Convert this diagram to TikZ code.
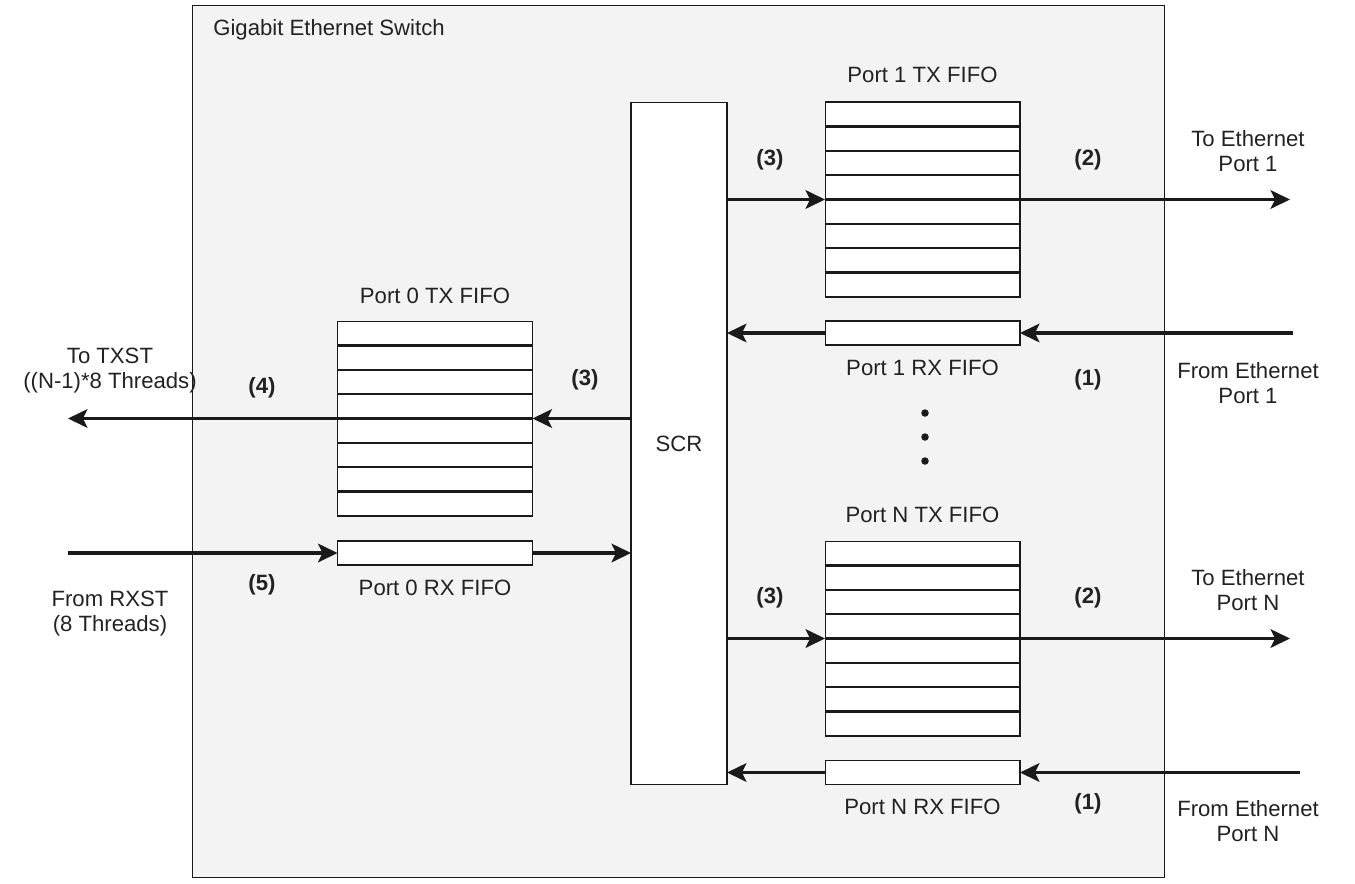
\documentclass[tikz,border=0pt]{standalone}
\usepackage{fontspec}
\setmainfont{Liberation Sans}
\usepackage{xcolor}
\definecolor{ink}{HTML}{1A1A1A}
\definecolor{panel}{HTML}{F3F3F3}
\definecolor{txt}{HTML}{222222}
\usetikzlibrary{positioning,arrows.meta,calc}

\begin{document}
\begin{tikzpicture}[
  x=0.02cm,y=-0.02cm,
  font=\fontsize{12.6}{14.2}\selectfont,
  text=txt,
  switchbox/.style={draw=ink,line width=0.6pt,fill=panel,
    minimum width=19.46cm,minimum height=17.46cm,inner sep=0pt,outer sep=0pt},
  scrbox/.style={draw=ink,line width=0.6pt,fill=white,
    minimum width=1.92cm,minimum height=13.66cm,inner sep=0pt,outer sep=0pt},
  txfifo/.style={draw=ink,line width=0.6pt,fill=white,
    minimum width=3.9cm,minimum height=3.9cm,inner sep=0pt,outer sep=0pt},
  rxfifo/.style={draw=ink,line width=0.6pt,fill=white,
    minimum width=3.9cm,minimum height=0.48cm,inner sep=0pt,outer sep=0pt},
  fifocap/.style={inner sep=0pt,text height=9pt,text depth=2.5pt},
  stepno/.style={inner sep=0pt,font=\fontsize{12.6}{14.2}\selectfont\bfseries},
  ext/.style={inner sep=0pt,align=center},
  slot/.style={draw=ink,line width=1.4pt},
  flow/.style={draw=ink,line width=2pt,-{Stealth[length=11pt,width=10.5pt,inset=2.5pt]}},
  dot/.style={circle,fill=ink,inner sep=0pt,minimum size=0.15cm}
]
\useasboundingbox (0,0) rectangle (1355,883);

% Switch and crossbar
\node[switchbox] (switch) at (678.5,441.5) {};
\node[fifocap,anchor=west] (title) at (213,30) {Gigabit Ethernet Switch};
\node[scrbox] (scr) at (679,443.5) {SCR};

% Port FIFOs
\node[txfifo] (tx1) at (922.5,199.5) {};
\node[rxfifo] (rx1) at (922.5,333) {};
\node[txfifo] (tx0) at (435,418.5) {};
\node[rxfifo] (rx0) at (435,553) {};
\node[txfifo] (txn) at (922.5,638.5) {};
\node[rxfifo] (rxn) at (922.5,772.5) {};

\foreach \f in {tx0,tx1,txn}
  \foreach \k in {1,...,7}
    \draw[slot] ($(\f.north west)!\k/8!(\f.south west)$) -- ($(\f.north east)!\k/8!(\f.south east)$);

\node[fifocap,above=0.3cm of tx1] (tx1cap) {Port 1 TX FIFO};
\node[fifocap,below=0.28cm of rx1] (rx1cap) {Port 1 RX FIFO};
\node[fifocap,above=0.26cm of tx0] (tx0cap) {Port 0 TX FIFO};
\node[fifocap,below=0.28cm of rx0] (rx0cap) {Port 0 RX FIFO};
\node[fifocap,above=0.28cm of txn] (txncap) {Port N TX FIFO};
\node[fifocap,below=0.28cm of rxn] (rxncap) {Port N RX FIFO};

\foreach \i/\y in {1/413,2/437,3/461}
  \node[dot] (dot\i) at (925,\y) {};

% Outside end points
\coordinate (tx1out) at (1290,199.5);
\coordinate (rx1in) at (1293,333);
\coordinate (tx0out) at (68,418.5);
\coordinate (rx0in) at (68,553);
\coordinate (txnout) at (1290,638.5);
\coordinate (rxnin) at (1300,772.5);

% Data paths
\draw[flow] (scr.east |- tx1.west) -- (tx1.west);
\draw[flow] (tx1.east) -- (tx1out);
\draw[flow] (rx1in) -- (rx1.east);
\draw[flow] (rx1.west) -- (rx1.west -| scr.east);
\draw[flow] (tx0.east -| scr.west) -- (tx0.east);
\draw[flow] (tx0.west) -- (tx0out);
\draw[flow] (rx0in) -- (rx0.west);
\draw[flow] (rx0.east) -- (rx0.east -| scr.west);
\draw[flow] (scr.east |- txn.west) -- (txn.west);
\draw[flow] (txn.east) -- (txnout);
\draw[flow] (rxnin) -- (rxn.east);
\draw[flow] (rxn.west) -- (rxn.west -| scr.east);

% Step numbers
\node[stepno] (s3a) at (770,160) {(3)};
\node[stepno] (s2a) at (1088,160) {(2)};
\node[stepno] (s1a) at (1088,380) {(1)};
\node[stepno] (s3b) at (585,380) {(3)};
\node[stepno] (s4) at (262,388) {(4)};
\node[stepno] (s5) at (262,585) {(5)};
\node[stepno] (s3c) at (770,598) {(3)};
\node[stepno] (s2b) at (1088,598) {(2)};
\node[stepno] (s1b) at (1088,804) {(1)};

% Outside labels
\node[ext] (eth1to) at (1248,151) {To Ethernet\\Port 1};
\node[ext] (eth1from) at (1248,383) {From Ethernet\\Port 1};
\node[ext] (txst) at (110,371) {To TXST\\((N-1)*8 Threads)};
\node[ext] (rxst) at (110,614) {From RXST\\(8 Threads)};
\node[ext] (ethnto) at (1248,590) {To Ethernet\\Port N};
\node[ext] (ethnfrom) at (1248,821) {From Ethernet\\Port N};

\end{tikzpicture}
\end{document}
